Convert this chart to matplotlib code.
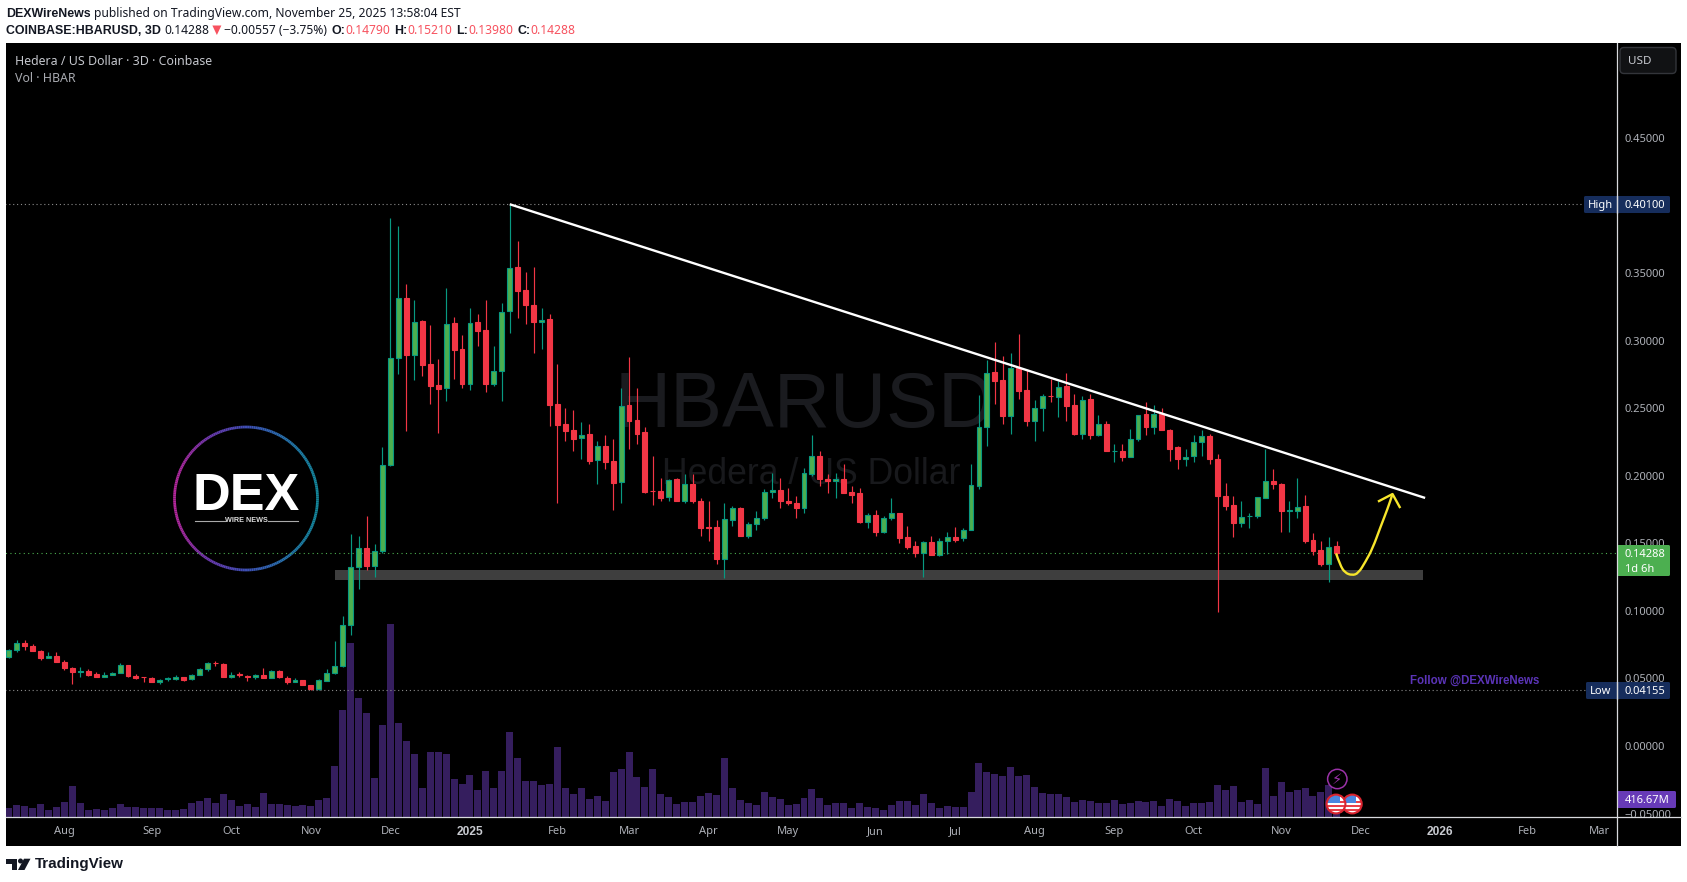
import numpy as np
import matplotlib
matplotlib.use('Agg')
import matplotlib.pyplot as plt
from matplotlib.collections import LineCollection
from matplotlib.colors import LinearSegmentedColormap
from matplotlib.patches import Circle, FancyBboxPatch, PathPatch, Polygon, Rectangle
from matplotlib.path import Path

# HBARUSD 3D candles
opens = [.0657, .0708, .0765, .0743, .0706, .0649, .0669, .0624, .0580, .0545,
         .0558, .0536, .0508, .0523, .0538, .0602, .0521, .0513, .0506, .0471,
         .0494, .0496, .0513, .0494, .0523, .0568, .0617, .0610, .0508, .0531,
         .0521, .0508, .0528, .0501, .0558, .0506, .0471, .0491, .0454, .0425,
         .0484, .0538, .0590, .0893, .1323, .1466, .1336, .1442, .2079, .2871,
         .3318, .2894, .3143, .2824, .2669, .2649, .3128, .2936, .2679, .3136,
         .3076, .2679, .2775, .3220, .3543, .3373, .3261, .3138, .3158, .2528,
         .2380, .2336, .2279, .2306, .2116, .2224, .2106, .1953, .2521, .2410,
         .2321, .1891, .1891, .1842, .1973, .1817, .1943, .1815, .1624, .1624,
         .1387, .1676, .1765, .1558, .1642, .1684, .1879, .1896, .1815, .1802,
         .1758, .2017, .2150, .1978, .1960, .1980, .1881, .1869, .1661, .1713,
         .1587, .1684, .1728, .1550, .1484, .1432, .1513, .1417, .1516, .1550,
         .1538, .1597, .1928, .2360, .2765, .2706, .2442, .2795, .2632, .2402,
         .2501, .2592, .2582, .2661, .2521, .2306, .2565, .2299, .2387, .2180,
         .2187, .2136, .2269, .2454, .2358, .2461, .2336, .2210, .2123, .2145,
         .2249, .2296, .2128, .1854, .1787, .1647, .1699, .1699, .1839, .1965,
         .1943, .1743, .1743, .1773, .1528, .1454, .1350, .1479]
highs = [.0721, .0785, .0785, .0758, .0713, .0699, .0699, .0637, .0587, .0587,
         .0570, .0548, .0550, .0550, .0615, .0602, .0533, .0513, .0513, .0496,
         .0513, .0528, .0513, .0533, .0580, .0620, .0632, .0615, .0550, .0550,
         .0526, .0536, .0580, .0560, .0563, .0521, .0503, .0491, .0454, .0496,
         .0570, .0780, .0965, .1570, .1558, .1699, .1496, .2210, .3911, .3847,
         .3422, .3303, .3150, .3113, .2861, .3387, .3173, .3039, .3239, .3195,
         .3299, .2958, .3276, .4010, .3736, .3506, .3543, .3239, .3195, .2824,
         .2499, .2484, .2395, .2387, .2261, .2299, .2269, .2647, .2876, .2647,
         .2358, .2150, .1987, .1980, .1987, .2010, .2010, .1832, .1810, .1674,
         .1795, .1780, .1772, .1661, .1736, .1899, .2024, .1987, .1913, .1847,
         .2061, .2299, .2180, .2017, .2024, .2091, .1928, .1906, .1728, .1750,
         .1699, .1839, .1728, .1632, .1521, .1521, .1558, .1536, .1587, .1624,
         .1617, .2091, .2595, .2854, .2987, .2884, .2906, .3047, .2785, .2558,
         .2602, .2713, .2699, .2758, .2602, .2587, .2602, .2447, .2402, .2232,
         .2239, .2343, .2452, .2543, .2521, .2499, .2350, .2217, .2202, .2299,
         .2336, .2306, .2165, .1950, .1854, .1817, .1728, .1844, .2195, .2047,
         .1950, .1810, .1987, .1861, .1580, .1521, .1550, .1521]
lows = [.0649, .0694, .0708, .0701, .0634, .0649, .0620, .0560, .0457, .0508,
        .0521, .0508, .0508, .0523, .0538, .0508, .0494, .0471, .0471, .0457,
        .0484, .0491, .0484, .0486, .0523, .0553, .0595, .0508, .0501, .0508,
        .0484, .0494, .0501, .0501, .0501, .0457, .0471, .0449, .04155, .0417,
        .0479, .0533, .0582, .0824, .1165, .1306, .1254, .1432, .2069, .2753,
        .2331, .2708, .2738, .2531, .2316, .2553, .2713, .2647, .2634, .2960,
        .2620, .2661, .2553, .3057, .3165, .3121, .2906, .2936, .2365, .1797,
        .2254, .2187, .2128, .2091, .1943, .2047, .1750, .1795, .2195, .2239,
        .1874, .1787, .1817, .1817, .1810, .1795, .1795, .1558, .1521, .1350,
        .1247, .1632, .1558, .1536, .1602, .1676, .1839, .1758, .1787, .1691,
        .1721, .2002, .1928, .1869, .1839, .1869, .1802, .1647, .1610, .1558,
        .1580, .1676, .1499, .1461, .1402, .1254, .1417, .1410, .1424, .1513,
        .1521, .1597, .1899, .2224, .2528, .2380, .2306, .2565, .2365, .2254,
        .2328, .2543, .2432, .2402, .2299, .2276, .2269, .2291, .2180, .2099,
        .2106, .2136, .2261, .2299, .2313, .2336, .2106, .2047, .2069, .2099,
        .2143, .2084, .0995, .1750, .1550, .1624, .1610, .1684, .1839, .1899,
        .1587, .1587, .1684, .1506, .1417, .1336, .1217, .1398]
closes = [.0711, .0763, .0738, .0701, .0649, .0669, .0620, .0575, .0545, .0555,
          .0528, .0508, .0528, .0540, .0600, .0516, .0506, .0508, .0471, .0489,
          .0501, .0513, .0491, .0526, .0570, .0615, .0612, .0508, .0526, .0526,
          .0508, .0526, .0501, .0555, .0508, .0471, .0489, .0449, .0425, .0489,
          .0540, .0592, .0896, .1326, .1466, .1336, .1444, .2081, .2874, .3318,
          .2891, .3141, .2817, .2664, .2639, .3126, .2928, .2676, .3133, .3069,
          .2676, .2778, .3215, .3540, .3365, .3261, .3136, .3155, .2521, .2373,
          .2328, .2276, .2303, .2113, .2222, .2099, .1950, .2518, .2402, .2313,
          .1881, .1886, .1839, .1970, .1817, .1940, .1810, .1617, .1617, .1387,
          .1681, .1763, .1558, .1644, .1689, .1881, .1896, .1810, .1795, .1758,
          .2022, .2148, .1973, .1958, .1978, .1876, .1861, .1661, .1713, .1587,
          .1689, .1728, .1543, .1476, .1432, .1511, .1417, .1518, .1548, .1528,
          .1600, .1933, .2363, .2763, .2699, .2439, .2795, .2624, .2402, .2503,
          .2592, .2587, .2659, .2513, .2306, .2563, .2299, .2385, .2180, .2187,
          .2136, .2274, .2452, .2358, .2459, .2336, .2202, .2121, .2140, .2252,
          .2296, .2121, .1847, .1780, .1647, .1696, .1706, .1844, .1963, .1936,
          .1743, .1750, .1770, .1521, .1447, .1350, .1474, .14288]
# volume in millions
volumes = [208, 278, 255, 208, 301, 162, 232, 347, 718, 324,
           162, 185, 162, 208, 301, 232, 232, 208, 208, 208,
           162, 162, 185, 324, 370, 440, 324, 532, 394, 255,
           301, 232, 556, 301, 301, 278, 255, 278, 255, 394,
           440, 1181, 2477, 4028, 2755, 2408, 903, 2130, 4468, 2176,
           1760, 1459, 671, 1505, 1505, 1459, 880, 764, 972, 625,
           1065, 671, 1065, 1968, 1366, 833, 833, 741, 764, 1621,
           671, 532, 671, 417, 486, 370, 1042, 1111, 1505, 926,
           695, 1111, 532, 463, 301, 347, 347, 486, 556, 509,
           1366, 671, 394, 324, 278, 579, 463, 417, 278, 301,
           440, 648, 440, 278, 324, 324, 208, 324, 232, 208,
           162, 278, 370, 370, 278, 532, 324, 208, 255, 232,
           232, 579, 1250, 1042, 995, 949, 1158, 949, 972, 695,
           556, 532, 532, 463, 347, 394, 370, 324, 324, 394,
           301, 324, 370, 347, 370, 255, 417, 370, 255, 324,
           324, 347, 741, 625, 718, 347, 394, 301, 1134, 486,
           810, 579, 625, 671, 486, 579, 741, 416.67]

month_labels = ['Aug', 'Sep', 'Oct', 'Nov', 'Dec', '2025', 'Feb', 'Mar', 'Apr', 'May',
                'Jun', 'Jul', 'Aug', 'Sep', 'Oct', 'Nov', 'Dec', '2026', 'Feb', 'Mar']
month_bars = [7, 18, 28, 38, 48, 58, 69, 78, 88, 98,
              109, 119, 129, 139, 149, 160, 170, 180, 191, 200]
price_ticks = [-0.05, 0.0, 0.05, 0.10, 0.15, 0.20, 0.25, 0.30, 0.35, 0.45]

last_price = 0.14288
high_price = 0.401
low_price = 0.04155

# drawings on the chart: (bar, price)
trend_bar = [63, 178.1]
trend_price = [0.401, 0.1836]
zone_bar = [41.0, 177.8]
zone_price = [0.1229, 0.1303]
curve_bar = [166.9, 167.4, 168.0, 168.9, 169.7, 170.6, 171.5, 172.5, 173.4, 174.0]
curve_price = [.1426, .1340, .1283, .1263, .1278, .1364, .1463, .1623, .1759, .1865]
head_bar = [172.3, 174.0, 174.9]
head_price = [.1813, .1865, .1769]

UP = '#4caf50'
UP_EDGE = '#089981'
DOWN = '#f23645'
VOL = '#351e5e'
GREY = '#aeb1b8'
INK = '#131722'
RED_TXT = '#f7525f'
LINE = '#d8dade'

W, H = 1687, 882
L, R, T, B = 6, 1617, 43, 817
PANE_R, PANE_B = 1681, 846
fig = plt.figure(figsize=(W / 100, H / 100), dpi=100, facecolor='white')


def px_axes(zorder):
    a = fig.add_axes([0, 0, 1, 1], zorder=zorder)
    a.set_xlim(0, W)
    a.set_ylim(H, 0)
    a.axis('off')
    a.patch.set_alpha(0)
    return a


rect = [L / W, 1 - B / H, (R - L) / W, (B - T) / H]
bg = px_axes(0)
vol_ax = fig.add_axes(rect, zorder=1)
ax = fig.add_axes(rect, zorder=2)
top = px_axes(3)

bg.add_patch(Rectangle((L, T), PANE_R - L, PANE_B - T, color='black', lw=0))

# watermark
bg.text(805, 406.5, 'HBARUSD', color='#1a1b1f', fontsize=56, family='Liberation Sans', ha='center', va='center')
bg.text(811, 474.5, 'Hedera / US Dollar', color='#18191c', fontsize=25.7, family='Liberation Sans', ha='center', va='center')

# logo
theta = np.linspace(0, 2 * np.pi, 241)
ring_x = 246 + 71.5 * np.cos(theta)
ring_y = 498.5 + 71.5 * np.sin(theta)
pts = np.column_stack([ring_x, ring_y])
ring_cmap = LinearSegmentedColormap.from_list('ring', ['#b3279b', '#6a3aae', '#3f4fb5', '#2a6fae', '#14879c'])
ring = LineCollection(np.stack([pts[:-1], pts[1:]], axis=1), cmap=ring_cmap, linewidths=2.0)
ring.set_array((ring_x[:-1] - 174.5) / 143)
bg.add_collection(ring)
bg.text(246.5, 497, 'DEX', color='white', fontsize=37.5, fontweight='bold', family='Liberation Sans', ha='center', va='center')
bg.add_patch(Rectangle((194, 489.5), 11, 8, color='black', lw=0))
bg.text(246.5, 520.5, 'WIRE NEWS', color='#dddddd', fontsize=5.2, fontweight='bold', family='Liberation Sans', ha='center', va='center')
bg.plot([195, 225], [520.5, 520.5], color='#aaaaaa', lw=0.8)
bg.plot([268, 298], [520.5, 520.5], color='#aaaaaa', lw=0.8)

bars = np.arange(len(closes))
o = np.array(opens)
c = np.array(closes)
rising = c >= o
fills = [UP if r else DOWN for r in rising]
edges = [UP_EDGE if r else DOWN for r in rising]

# volume
vol_ax.bar(bars, volumes, width=0.88, color=VOL, lw=0)
vol_ax.set_ylim(0, (B - T) * 23.15)
vol_ax.axis('off')

# candles
ax.patch.set_alpha(0)
ax.fill_between(zone_bar, zone_price[0], zone_price[1], color='#3e3e3e', lw=0, zorder=1)
ax.vlines(bars, lows, highs, colors=edges, lw=0.85, zorder=2)
ax.bar(bars, np.abs(c - o), bottom=np.minimum(o, c), width=0.62, color=fills, edgecolor=edges, lw=0.8, zorder=3)
ax.plot(trend_bar, trend_price, color='white', lw=1.7, zorder=5, solid_capstyle='butt')

# hand drawn arrow, smoothed through midpoints
mid_x = (np.array(curve_bar[:-1]) + np.array(curve_bar[1:])) / 2
mid_y = (np.array(curve_price[:-1]) + np.array(curve_price[1:])) / 2
verts = [(curve_bar[0], curve_price[0])]
codes = [Path.MOVETO]
for i in range(1, len(curve_bar) - 1):
    verts += [(curve_bar[i], curve_price[i]), (mid_x[i], mid_y[i])]
    codes += [Path.CURVE3, Path.CURVE3]
verts.append((curve_bar[-1], curve_price[-1]))
codes.append(Path.LINETO)
ax.add_patch(PathPatch(Path(verts, codes), fc='none', ec='#f7e52b', lw=1.7, zorder=6))
ax.plot(head_bar, head_price, color='#f7e52b', lw=1.7, zorder=6)

ax.hlines(last_price, -1, 210, colors=UP, linestyles=(0, (1, 3)), lw=0.8, zorder=1)
ax.hlines(high_price, -1, 198.1, colors='#8c8c8c', linestyles=(0, (1, 2.5)), lw=0.8, zorder=1)
ax.hlines(low_price, -1, 198.3, colors='#8c8c8c', linestyles=(0, (1, 2.5)), lw=0.8, zorder=1)

ax.set_xlim((L - 8.7) / 7.953, (R - 8.7) / 7.953)
ax.set_ylim((746 - B) / 1351, (746 - T) / 1351)
vol_ax.set_xlim(ax.get_xlim())
for s in ax.spines.values():
    s.set_visible(False)
ax.yaxis.tick_right()
ax.set_yticks(price_ticks)
ax.set_yticklabels(['\u22120.05000' if p < 0 else f'{p:.5f}' for p in price_ticks],
                   fontsize=8.0, color=GREY, family='Noto Sans')
ax.tick_params(axis='y', length=0, pad=5.5)
for lab in ax.get_yticklabels():
    lab.set_verticalalignment('center_baseline')
ax.set_xticks(month_bars)
ax.set_xticklabels(month_labels, fontsize=8, color=GREY, family='Noto Sans')
ax.tick_params(axis='x', length=0, pad=6.8)
for lab in ax.get_xticklabels():
    if lab.get_text().startswith('20'):
        lab.set_fontweight('bold')
        lab.set_family('Liberation Sans')
        lab.set_fontsize(8.6)
        lab.set_color('#c8cad0')

# frame
top.plot([R, R], [T, PANE_B], color=LINE, lw=0.9)
top.plot([L, PANE_R], [B, B], color=LINE, lw=0.9)


def tag(x0, x1, y0, y1, color):
    top.add_patch(FancyBboxPatch((x0 + 1, y0 + 1), x1 - x0 - 2, y1 - y0 - 2, boxstyle='round,pad=1,rounding_size=1.5',
                                 fc=color, ec='none', lw=0))


tag(1584, 1670, 196, 213, '#162d5c')
tag(1586, 1670, 682, 699, '#162d5c')
top.plot([R, R], [196, 213], color=LINE, lw=0.9)
top.plot([R, R], [682, 699], color=LINE, lw=0.9)
tag(R, 1670, 545, 576, '#4caf50')
tag(R, 1676, 791, 808, '#673ab7')
lab = dict(family='Noto Sans', fontsize=8.0, color='white', va='center')
top.text(1600, 205.5, 'High', ha='center', **lab)
top.text(1601, 692, 'Low', ha='center', **lab)
top.text(1624.7, 205.5, '0.40100', **lab)
top.text(1624.7, 692, '0.04155', **lab)
top.text(1624.7, 554.5, '0.14288', **lab)
top.text(1625.5, 569, '1d 6h', **lab)
top.text(1624.7, 800.5, '416.67M', **lab)
top.add_patch(FancyBboxPatch((1620, 47.5), 56, 26, boxstyle='round,pad=0,rounding_size=4', fc='#111214', ec='#33353a', lw=1))
top.text(1640, 62, 'USD', family='Noto Sans', fontsize=8.4, color='#c8cad0', va='center', ha='center')

# texts over the pane
top.text(15, 61.5, 'Hedera / US Dollar \u00b7 3D \u00b7 Coinbase', family='Noto Sans', fontsize=8.95, color='#c4c6cc', va='center')
top.text(15, 78.5, 'Vol \u00b7 HBAR', family='Noto Sans', fontsize=8.95, color='#a8aab0', va='center')
top.text(1410.3, 681, 'Follow @DEXWireNews', family='Liberation Sans', fontsize=8.3, fontweight='bold', color='#5b34b8', va='center')

# event markers
top.add_patch(Circle((1337.3, 779), 9.7, fc='black', ec='#9b32a8', lw=1.1))
top.text(1337.3, 779, '\u26a1', family='DejaVu Sans', fontsize=10.5, color='#9b32a8', ha='center', va='center')
for fx in [1352.3, 1336]:
    disc = Circle((fx, 804), 9, fc='white', ec='none')
    top.add_patch(disc)
    for sy in [805, 809, 800.5]:
        st = Rectangle((fx - 9, sy), 18, 2, fc='#e8414c', ec='none')
        top.add_patch(st)
        st.set_clip_path(disc)
    blue = Rectangle((fx - 9, 795), 13, 8, fc='#4a86e0', ec='none')
    top.add_patch(blue)
    blue.set_clip_path(disc)
    top.add_patch(Circle((fx, 804), 9.4, fc='none', ec='#d9242f', lw=1.5))

# header, pieces laid one after the other
renderer = fig.canvas.get_renderer()


def run(x, y, pieces):
    for txt, color, weight, gap in pieces:
        fam = 'Liberation Sans' if weight == 'bold' else 'Noto Sans'
        size = 8.9 if weight == 'bold' else 8.7
        t = bg.text(x, y, txt, color=color, fontweight=weight, family=fam, fontsize=size, va='center')
        x = t.get_window_extent(renderer).x1 + gap
    return x


run(6, 14, [('DEXWireNews', INK, 'bold', 3.5),
            ('published on TradingView.com, November 25, 2025 13:58:04 EST', INK, 'normal', 0)])
x = run(6, 30.5, [('COINBASE:HBARUSD, 3D', INK, 'bold', 3.5), ('0.14288', INK, 'normal', 3)])
bg.add_patch(Polygon([[x, 25.5], [x + 9, 25.5], [x + 4.5, 35]], fc=RED_TXT, ec='none'))
run(x + 12, 30.5, [('\u22120.00557 (\u22123.75%)', INK, 'normal', 4),
                   ('O:', INK, 'bold', 0), ('0.14790', RED_TXT, 'normal', 4),
                   ('H:', INK, 'bold', 0), ('0.15210', RED_TXT, 'normal', 4),
                   ('L:', INK, 'bold', 0), ('0.13980', RED_TXT, 'normal', 4),
                   ('C:', INK, 'bold', 0), ('0.14288', RED_TXT, 'normal', 0)])

# TradingView footer
bg.add_patch(Polygon([[6, 858.7], [17.5, 858.7], [17.5, 870], [12, 870], [12, 863.5], [6, 863.5]], fc=INK, ec='none'))
bg.add_patch(Circle((20.5, 861), 2.5, fc=INK, ec='none'))
bg.add_patch(Polygon([[24, 858.7], [30.5, 858.7], [24.5, 870], [18, 870]], fc=INK, ec='none'))
bg.text(35, 864, 'TradingView', color=INK, fontsize=10.9, fontweight='bold', family='Liberation Sans', va='center')

fig.savefig('out.png', dpi=100, facecolor='white')
